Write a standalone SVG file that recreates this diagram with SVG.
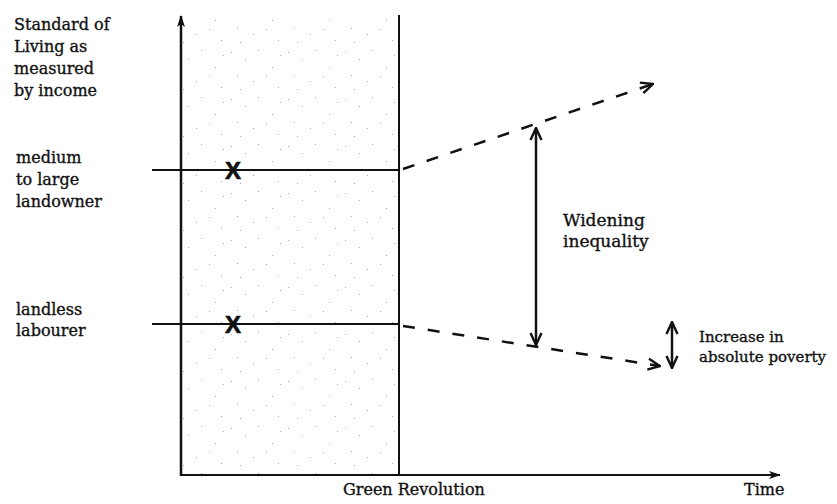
<svg xmlns="http://www.w3.org/2000/svg" width="837" height="504" viewBox="0 0 837 504">
  <style>
    .lbl { font-family: "DejaVu Serif", "Liberation Serif", serif; font-size: 16px; fill: #111; stroke: #111; stroke-width: 0.35; }
    .sm { font-size: 15px; }
    .ax { stroke: #111; stroke-width: 2.5; fill: none; }
    .ln { stroke: #111; stroke-width: 2; fill: none; }
    .dash { stroke: #111; stroke-width: 2.5; fill: none; stroke-dasharray: 12 13; }
    .dbl { stroke: #111; stroke-width: 2.5; fill: none; }
    .xm { font-family: "Liberation Sans", Arial, sans-serif; font-size: 24px; font-weight: bold; fill: #111; stroke: #111; stroke-width: 0.6; }
  </style>
  <defs>
    <pattern id="stipple" width="57" height="47" patternUnits="userSpaceOnUse">
      <g fill="#aaa">
        <rect x="3" y="5" width="1" height="1"/>
        <rect x="17" y="12" width="1" height="1"/>
        <rect x="30" y="3" width="1" height="1"/>
        <rect x="44" y="20" width="1" height="1"/>
        <rect x="9" y="28" width="1" height="1"/>
        <rect x="25" y="34" width="1" height="1"/>
        <rect x="50" y="40" width="1" height="1"/>
        <rect x="38" y="29" width="1" height="1"/>
        <rect x="12" y="42" width="1" height="1"/>
        <rect x="52" y="8" width="1" height="1"/>
      </g>
    </pattern>
    <marker id="chev" viewBox="0 0 14 14" refX="13" refY="7" markerWidth="14" markerHeight="14" markerUnits="userSpaceOnUse" orient="auto-start-reverse">
      <path d="M1,1.5 L13,7 L1,12.5" fill="none" stroke="#111" stroke-width="2.4"/>
    </marker>
    <marker id="solid" viewBox="0 0 12 10" refX="11" refY="5" markerWidth="12" markerHeight="10" markerUnits="userSpaceOnUse" orient="auto">
      <path d="M0,1 L12,5 L0,9 L3,5 Z" fill="#111"/>
    </marker>
  </defs>

  <g id="green-revolution-period">
    <rect x="182" y="15" width="217" height="460" fill="url(#stipple)"/>
    <line x1="399" y1="15" x2="399" y2="475" class="ln"/>
  </g>

  <g id="axes">
    <line x1="181" y1="476" x2="181" y2="16" class="ax" marker-end="url(#solid)"/>
    <line x1="180" y1="475" x2="780" y2="475" class="ln" marker-end="url(#solid)"/>
  </g>

  <g id="y-axis-label">
    <text class="lbl" x="14" y="30">Standard of</text>
    <text class="lbl" x="14" y="52">Living as</text>
    <text class="lbl" x="14" y="74">measured</text>
    <text class="lbl" x="14" y="96">by income</text>
  </g>

  <g id="landowner">
    <text class="lbl" x="16" y="163">medium</text>
    <text class="lbl" x="16" y="185">to large</text>
    <text class="lbl" x="16" y="207">landowner</text>
    <line x1="152" y1="170" x2="399" y2="170" class="ln"/>
    <text class="xm" x="233" y="179" text-anchor="middle">X</text>
  </g>

  <g id="labourer">
    <text class="lbl" x="16" y="315">landless</text>
    <text class="lbl" x="16" y="336">labourer</text>
    <line x1="152" y1="324" x2="399" y2="324" class="ln"/>
    <text class="xm" x="233" y="333" text-anchor="middle">X</text>
  </g>

  <g id="inequality-label">
    <text class="lbl" x="563" y="226" style="font-size:17px">Widening</text>
    <text class="lbl" x="563" y="247" style="font-size:17px">inequality</text>
  </g>

  <g id="poverty-label">
    <text class="lbl sm" x="699" y="342">Increase in</text>
    <text class="lbl sm" x="699" y="362">absolute poverty</text>
  </g>

  <g id="x-axis-labels">
    <text class="lbl" x="343" y="495">Green Revolution</text>
    <text class="lbl" x="744" y="495">Time</text>
  </g>

  <g id="connectors">
    <path d="M403,169 L653,84" class="dash" marker-end="url(#chev)"/>
    <path d="M403,326 L660,366" class="dash" marker-end="url(#chev)"/>
    <line x1="536" y1="128" x2="536" y2="345" class="dbl" marker-start="url(#chev)" marker-end="url(#chev)"/>
    <line x1="672" y1="322" x2="672" y2="368" class="dbl" marker-start="url(#chev)" marker-end="url(#chev)"/>
  </g>
</svg>
